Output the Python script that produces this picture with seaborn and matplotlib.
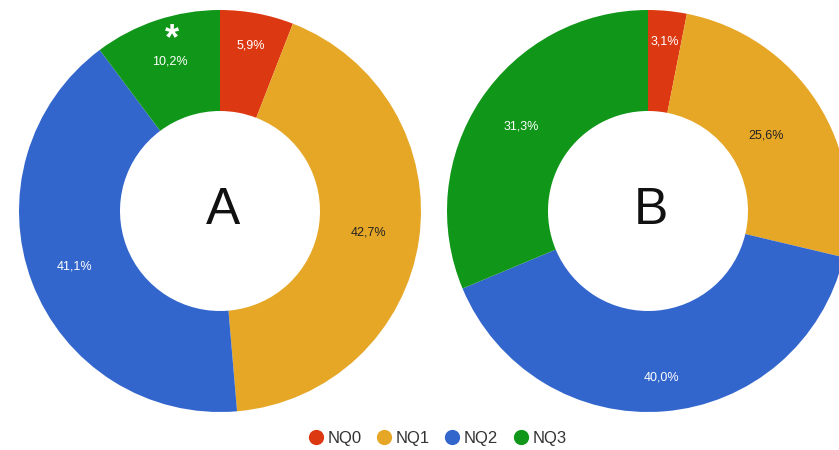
import numpy as np
import seaborn as sns
import matplotlib.pyplot as plt
from matplotlib.lines import Line2D

categories = ["NQ0", "NQ1", "NQ2", "NQ3"]
values_a = [5.9, 42.7, 41.1, 10.2]
values_b = [3.1, 25.6, 40.0, 31.3]
labels_a = ["5,9%", "42,7%", "41,1%", "10,2%"]
labels_b = ["3,1%", "25,6%", "40,0%", "31,3%"]

palette = sns.color_palette(["#DC3912", "#E6A727", "#3366CC", "#109618"])
label_colors = ["white", "#222222", "white", "white"]

sns.set_theme(style="white")
plt.rcParams["font.family"] = ["Liberation Sans", "DejaVu Sans"]

fig = plt.figure(figsize=(8.39, 4.5), dpi=100)
ax = fig.add_axes([0, 0, 1, 1])

# radial distance of each percent label from the centre (px), like the google layout
label_r_a = [168, 150, 156, 158]
label_r_b = [170, 140, 167, 152]


def donut(values, labels, label_r, center, letter):
    ax.pie(values, colors=palette, startangle=90, counterclock=False,
           center=center, radius=201,
           wedgeprops=dict(width=101, linewidth=0))
    total = sum(values)
    start = 90.0
    for v, lab, c, r in zip(values, labels, label_colors, label_r):
        mid = np.deg2rad(start - v / total * 360 / 2)
        start -= v / total * 360
        x = center[0] + r * np.cos(mid)
        y = center[1] + r * np.sin(mid)
        ax.text(x, y, lab, ha="center", va="center", fontsize=9, color=c)
    ax.text(center[0] + 3, center[1], letter, ha="center", va="center",
            fontsize=37, color="#111111")


# pie space runs upward, so use negative y for the centres
donut(values_a, labels_a, label_r_a, (220, -211), "A")
donut(values_b, labels_b, label_r_b, (648, -211), "B")
ax.text(172, -40, "*", ha="center", va="center", fontsize=26, color="white", fontweight="bold")

ax.set_xlim(0, 839)
ax.set_ylim(-450, 0)
ax.set_aspect("equal")
ax.axis("off")

handles = [Line2D([0], [0], marker="o", color="w", markerfacecolor=col, markersize=12)
           for col in palette]
fig.legend(handles, categories, loc="center", bbox_to_anchor=(436 / 839, 1 - 438 / 450),
           ncol=4, frameon=False, fontsize=12, handletextpad=0.1, columnspacing=0.75,
           handlelength=1.2, labelcolor="#333333")

fig.savefig("out.png", dpi=100)
